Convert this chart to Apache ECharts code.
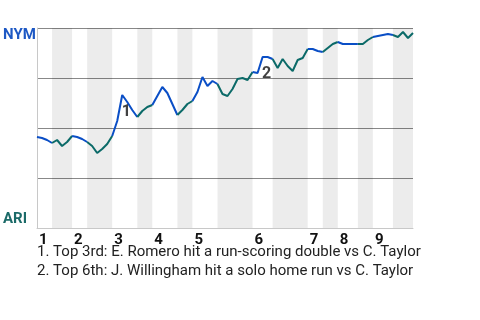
<!DOCTYPE html>
<html>
<head>
<meta charset="utf-8">
<script src="https://cdn.jsdelivr.net/npm/echarts@6/dist/echarts.min.js"></script>
<style>
html,body{margin:0;padding:0;background:#fff;}
#chart{width:480px;height:320px;}
</style>
</head>
<body>
<div id="chart"></div>
<script>
// Plate-appearance index where each half-inning starts (last value = end of game)
const halfBounds = [0,3,7,10,15,20,23,28,31,36,43,47,54,57,60,64,67,71,75];
const innings = ['1','2','3','4','5','6','7','8','9'];
// NYM win probability (%) after each plate appearance
const winProb = [
  45.5,45,44,42.5,44,41,43,46,45.5,44.5,
  43,41,37.5,39.5,42,46,53.5,66.5,63,59,
  55.5,58.5,60.5,61.5,66,70.5,67.5,62,56.5,59,
  62,63.5,68,75.5,71,73.5,72,67,66,69.5,
  74.5,75,74,78,77.5,85.5,85.5,84.5,80,84.5,
  81,78.5,84,85,89.5,89.5,88.5,88,90,92,
  93,92,92,92,92,92,94,95.5,96,96.5,
  97,96.5,95.5,98,95,97.5,100
];
const eventIdx = [17,45];
const eventLabels = ['1','2'];
const eventNotes = [
  '1. Top 3rd: E. Romero hit a run-scoring double vs C. Taylor',
  '2. Top 6th: J. Willingham hit a solo home run vs C. Taylor'
];
const teamTop = 'NYM';
const teamBottom = 'ARI';

const BLUE = '#0a4ec6';
const TEAL = '#0b6a68';

const inningStart = innings.map((_, i) => halfBounds[i * 2]);

const bands = [];
for (let h = 1; h < halfBounds.length - 1; h += 2) {
  bands.push([{ xAxis: halfBounds[h] }, { xAxis: halfBounds[h + 1] }]);
}

const series = [{
  type: 'line',
  z: 1,
  data: winProb.map((v, k) => [k, v]),
  showSymbol: false,
  silent: true,
  lineStyle: { opacity: 0 },
  markArea: { silent: true, itemStyle: { color: 'rgba(0,0,0,0.075)' }, data: bands }
}];

for (let h = 0; h < halfBounds.length - 1; h++) {
  const d = [];
  for (let k = halfBounds[h]; k <= halfBounds[h + 1]; k++) d.push([k, winProb[k]]);
  series.push({
    type: 'line',
    data: d,
    showSymbol: false,
    silent: true,
    lineStyle: { width: 2, color: h % 2 === 0 ? BLUE : TEAL },
    z: 3
  });
}

series.push({
  type: 'scatter',
  symbolSize: 0,
  silent: true,
  z: 4,
  data: eventIdx.map((k, i) => ({ value: [k, winProb[k]], name: eventLabels[i] })),
  label: {
    show: true,
    position: 'inside',
    offset: [4, 17],
    formatter: p => p.name,
    fontFamily: 'Roboto',
    fontWeight: 'bold',
    fontSize: 16,
    color: '#111'
  }
});

const chart = echarts.init(document.getElementById('chart'), null, { renderer: 'canvas' });
chart.setOption({
  animation: false,
  backgroundColor: '#fff',
  grid: { left: 37, right: 67, top: 28, bottom: 92, containLabel: false },
  xAxis: {
    type: 'value',
    min: 0,
    max: halfBounds[halfBounds.length - 1],
    splitLine: { show: false },
    axisTick: { show: false },
    axisLine: { show: true, lineStyle: { color: '#c8c8c8', width: 1 } },
    axisLabel: {
      show: true,
      customValues: inningStart,
      formatter: v => innings[inningStart.indexOf(v)] || '',
      align: 'left',
      margin: 5,
      padding: [0, 0, 0, 2],
      fontFamily: 'Roboto',
      fontWeight: 'bold',
      fontSize: 15,
      color: '#111'
    }
  },
  yAxis: {
    type: 'value',
    min: 0,
    max: 100,
    interval: 25,
    axisLabel: { show: false },
    axisTick: { show: false },
    axisLine: { show: true, lineStyle: { color: '#c8c8c8', width: 1 } },
    splitLine: { show: true, lineStyle: { color: '#888', width: 1 } }
  },
  graphic: [
    { type: 'text', left: 3, top: 28, style: { text: teamTop, font: 'bold 15px Roboto', fill: '#1d58c4' } },
    { type: 'text', left: 3, top: 212, style: { text: teamBottom, font: 'bold 15px Roboto', fill: '#1b6a68' } },
    { type: 'text', left: 37, top: 245, style: { text: eventNotes[0], font: '15px Roboto', fill: '#222' } },
    { type: 'text', left: 37, top: 264, style: { text: eventNotes[1], font: '15px Roboto', fill: '#222' } }
  ],
  series: series
});
</script>
</body>
</html>
